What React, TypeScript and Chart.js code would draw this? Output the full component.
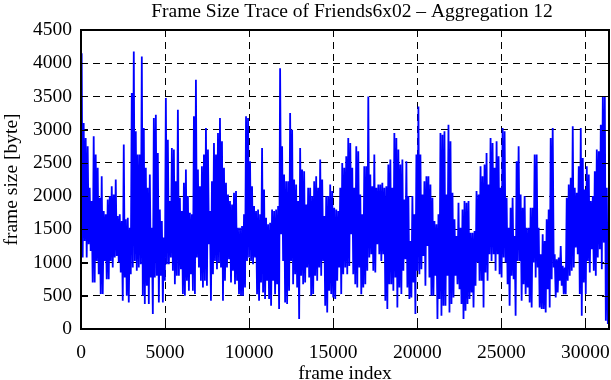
import { useEffect, useRef } from "react";
import { Chart, registerables } from "chart.js";

Chart.register(...registerables);

const TITLE = "Frame Size Trace of Friends6x02 \u2013 Aggregation 12";
const X_LABEL = "frame index";
const Y_LABEL = "frame size [byte]";
const X_TICKS = [0, 5000, 10000, 15000, 20000, 25000, 30000];
const Y_TICKS = [0, 500, 1000, 1500, 2000, 2500, 3000, 3500, 4000, 4500];
const X_MAX = 31400;
const Y_MAX = 4500;
const FIRST_FRAME = 40;
const FRAME_STEP = 59.6;

// frame sizes (bytes), alternating local max / local min, in trace order
const segment1 = [
  4150, 1075, 3100, 1325, 2875, 1075, 2750, 1275, 2125, 1175, 1925, 700, 2900, 700, 2625, 1025,
  2425, 825, 1975, 525, 2300, 525, 1775, 1025, 1725, 750, 1950, 750, 2000, 1025, 2150, 925,
  2025, 1075, 2250, 1100, 1700, 1000, 1725, 850, 1625, 425, 2775, 775, 1650, 500, 1675, 400,
  1525, 825, 3550, 925, 4175, 1025, 2975, 875, 2625, 925, 2625, 975, 4100, 500, 3025, 375,
  2425, 650, 2125, 375, 2325, 775, 1525, 225, 3175, 775, 3225, 800, 2650, 400, 1800, 800,
  1625, 400, 1375, 725, 3475, 975,
];
const segment2 = [
  2850, 975, 1925, 1075, 2725, 875, 2700, 675, 2225, 800, 3300, 800, 1975, 900, 1775, 525,
  2200, 500, 2400, 725, 2000, 575, 1750, 825, 1725, 575, 3200, 525, 3750, 1075, 2400, 925,
  2150, 725, 2450, 625, 2625, 725, 3025, 650, 2700, 1275, 1775, 425, 2225, 825, 2800, 1025,
  2625, 900, 2950, 1000, 3175, 925, 2825, 425, 2425, 725, 2200, 925, 2025, 1050, 1925, 700,
  1875, 875, 2050, 675, 2075, 725, 1525, 525, 1525, 500, 1550, 500, 1725, 625, 3200, 1025,
  3175, 1075, 2525, 1025, 2150, 975, 1850, 1075,
];
const segment3 = [
  1775, 525, 1800, 425, 1725, 700, 2725, 550, 2100, 450, 1675, 725, 1575, 450, 1600, 350,
  1800, 725, 1775, 525, 1800, 675, 1850, 300, 3925, 1425, 2750, 1025, 2325, 400, 2225, 375,
  2225, 575, 3250, 1025, 3000, 675, 2250, 825, 2175, 625, 1925, 150, 2725, 800, 2400, 675,
  2375, 700, 1875, 925, 2125, 775, 2125, 500, 2000, 525, 2225, 800, 2300, 725, 2125, 925,
  2550, 800, 2250, 1025, 1700, 350, 2000, 250, 2000, 575, 2175, 525, 2075, 475, 1825, 450,
  1800, 725, 1775, 925, 2125, 525, 2500, 825,
];
const segment4 = [
  2425, 925, 2600, 825, 2875, 950, 2800, 1425, 2425, 825, 2125, 675, 2750, 625, 2675, 925,
  2025, 525, 1725, 625, 2450, 675, 2450, 875, 3500, 1075, 2325, 1125, 2150, 875, 2625, 850,
  2125, 1275, 2175, 1125, 2175, 1025, 2200, 1125, 2125, 425, 2150, 300, 2475, 675, 2550, 675,
  2125, 575, 2950, 775, 2875, 325, 2700, 625, 2475, 525, 2550, 875, 1950, 1050, 2525, 625,
  2000, 450, 1325, 475, 2000, 700, 1725, 225, 2625, 875, 3350, 825, 2625, 900, 2025, 1100,
  2225, 650, 2300, 1250, 2300, 775, 2175, 500,
];
const segment5 = [
  1975, 500, 1625, 800, 1575, 150, 1725, 450, 2950, 200, 2925, 350, 2975, 350, 2025, 800,
  3075, 250, 2825, 375, 2050, 475, 1650, 800, 1400, 675, 1900, 600, 1525, 375, 1800, 150,
  1925, 275, 1900, 375, 1925, 450, 1450, 550, 1450, 325, 1475, 650, 2075, 1000, 2025, 725,
  2450, 725, 2300, 325, 2475, 850, 2650, 725, 2175, 1125, 2875, 1025, 2800, 1125, 2425, 875,
  2825, 1125, 2600, 825, 2125, 775, 3025, 1075, 2975, 1000, 1975, 675, 1525, 350, 1825, 800,
  1975, 750, 1400, 200, 2525, 1025, 2750, 1025,
];
const segment6 = [
  2025, 425, 1825, 675, 2000, 525, 1525, 625, 1525, 400, 1825, 325, 1825, 1000, 2625, 775,
  2625, 925, 1525, 325, 1125, 300, 1425, 300, 1325, 250, 1650, 600, 1800, 325, 2875, 750,
  3025, 925, 1125, 475, 1050, 550, 1075, 725, 1250, 650, 950, 525, 925, 525, 1975, 725,
  2175, 800, 2275, 875, 3050, 925, 2125, 1225, 2050, 1125, 2450, 525, 3025, 200, 2575, 700,
  2100, 525, 2450, 1025, 2325, 850, 1925, 1200, 2000, 875, 2375, 800, 2700, 1075, 2675, 1200,
  3075, 900, 3500, 1300, 3500, 125, 2125, 75,
];

const FONT_FAMILY = "'Liberation Serif', 'Times New Roman', serif";
const FONT_SIZE = 19.5;

export default function App() {
  const canvasRef = useRef<HTMLCanvasElement>(null);

  useEffect(() => {
    document.body.style.margin = "0";
    const canvas = canvasRef.current;
    if (!canvas) return;
    const values = [...segment1, ...segment2, ...segment3, ...segment4, ...segment5, ...segment6];
    const points = values.map((v, i) => ({ x: FIRST_FRAME + i * FRAME_STEP, y: v }));

    const frameBox = {
      id: "frameBox",
      afterDatasetsDraw(chart: any) {
        const { ctx, chartArea } = chart;
        const { left, right, top, bottom } = chartArea;
        const xs = chart.scales.x;
        const ys = chart.scales.y;
        const len = 7;
        ctx.save();
        ctx.strokeStyle = "#000";
        ctx.lineWidth = 1;
        ctx.setLineDash([]);
        ctx.beginPath();
        for (const v of Y_TICKS) {
          const y = Math.round(ys.getPixelForValue(v)) + 0.5;
          ctx.moveTo(left, y);
          ctx.lineTo(left + len, y);
          ctx.moveTo(right, y);
          ctx.lineTo(right - len, y);
        }
        for (const v of X_TICKS) {
          const x = Math.round(xs.getPixelForValue(v)) + 0.5;
          ctx.moveTo(x, bottom);
          ctx.lineTo(x, bottom - len);
          ctx.moveTo(x, top);
          ctx.lineTo(x, top + len);
        }
        ctx.stroke();
        ctx.lineWidth = 2;
        ctx.strokeRect(left, top, right - left, bottom - top);
        // title, centred over the plot area
        ctx.fillStyle = "#000";
        ctx.font = `${FONT_SIZE}px ${FONT_FAMILY}`;
        ctx.textAlign = "center";
        ctx.textBaseline = "middle";
        ctx.fillText(TITLE, (left + right) / 2 + 7, 12);
        ctx.restore();
      },
    };

    const font = { family: FONT_FAMILY, size: FONT_SIZE, weight: "normal" as const };
    const titleFont = { family: FONT_FAMILY, size: FONT_SIZE, weight: "normal" as const, lineHeight: 1 };

    const chart = new Chart(canvas, {
      type: "line",
      data: {
        datasets: [
          {
            data: points,
            borderColor: "#0000ff",
            borderWidth: 1.8,
            pointRadius: 0,
            tension: 0,
            fill: false,
          },
        ],
      },
      options: {
        animation: false,
        responsive: false,
        devicePixelRatio: 1,
        layout: { padding: { left: 0, right: 2, top: 30, bottom: 0 } },
        plugins: {
          legend: { display: false },
          tooltip: { enabled: false },
          title: { display: false },
        },
        scales: {
          x: {
            type: "linear",
            min: 0,
            max: X_MAX,
            afterBuildTicks: (s: any) => {
              s.ticks = X_TICKS.map((value) => ({ value }));
            },
            afterFit: (s: any) => {
              s.height = 51;
              s.paddingLeft = 0;
              s.paddingRight = 0;
            },
            grid: { color: "#000", lineWidth: 1, drawTicks: false, tickLength: 0 },
            border: { display: false, dash: [7, 5] },
            ticks: {
              color: "#000",
              font,
              padding: 12,
              maxRotation: 0,
              autoSkip: false,
              callback: (v: any) => String(v),
            },
            title: { display: true, text: X_LABEL, color: "#000", font: titleFont, padding: { top: 0, bottom: -4 } },
          },
          y: {
            type: "linear",
            min: 0,
            max: Y_MAX,
            afterBuildTicks: (s: any) => {
              s.ticks = Y_TICKS.map((value) => ({ value }));
            },
            afterFit: (s: any) => {
              s.width = 81;
              s.paddingTop = 0;
              s.paddingBottom = 0;
            },
            grid: { color: "#000", lineWidth: 1, drawTicks: false, tickLength: 0 },
            border: { display: false, dash: [7, 5] },
            ticks: {
              color: "#000",
              font,
              padding: 9,
              autoSkip: false,
              callback: (v: any) => String(v),
            },
            title: { display: true, text: Y_LABEL, color: "#000", font: titleFont, padding: { top: 2, bottom: 0 } },
          },
        },
      },
      plugins: [frameBox],
    });

    return () => chart.destroy();
  }, []);

  return (
    <div style={{ position: "fixed", left: 0, top: 0, width: 611, height: 380 }}>
      <canvas ref={canvasRef} width={611} height={380} style={{ display: "block" }} />
    </div>
  );
}
